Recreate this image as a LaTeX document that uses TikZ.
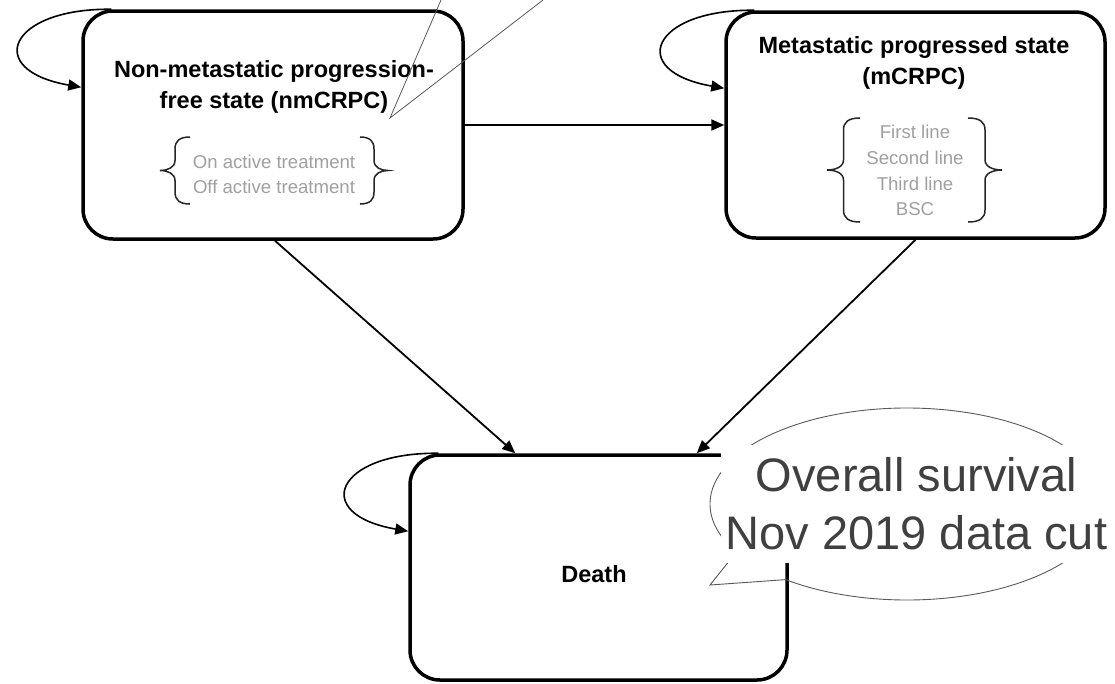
\documentclass[tikz,border=0pt]{standalone}
\usepackage{fontspec}
\setmainfont{Liberation Sans}
\usetikzlibrary{arrows.meta,calc}
\definecolor{subgray}{RGB}{160,160,160}
\definecolor{calloutgray}{RGB}{64,64,64}
\definecolor{lineg}{RGB}{90,90,90}
\newcommand{\drawbrace}[4]{% #1 tip x, #2 end x, #3 top y, #4 bottom y
  \pgfmathsetmacro{\brM}{(#1+#2)/2}%
  \pgfmathsetmacro{\brC}{(#3+#4)/2}%
  \pgfmathsetmacro{\brD}{(#2-#1)/2}%
  \draw[bracestyle] (#2,#3) .. controls ({\brM+0.3*\brD},#3) and (\brM,{#3+4}) .. (\brM,{#3+12})
    -- (\brM,{\brC-10}) .. controls (\brM,{\brC-3}) and ({\brM-0.5*\brD},\brC) .. (#1,\brC)
    .. controls ({\brM-0.5*\brD},\brC) and (\brM,{\brC+3}) .. (\brM,{\brC+10})
    -- (\brM,{#4-12}) .. controls (\brM,{#4-4}) and ({\brM+0.3*\brD},#4) .. (#2,#4);%
}
\newcommand{\selfloop}[1]{%
  \draw[looparr] ([xshift=30pt]#1.north west) .. controls +(-103,-1) and +(-98,-17) .. ([yshift=-78pt]#1.north west);%
}
\begin{document}
\begin{tikzpicture}[x=1pt,y=-1pt,
  state/.style={draw, line width=3.5pt, rounded corners=30pt, inner sep=0pt},
  arr/.style={line width=1.8pt, -{Triangle[length=13pt,width=11pt]}},
  looparr/.style={line width=1.6pt, -{Triangle[length=13pt,width=11pt]}},
  title/.style={font=\fontsize{23.5}{31}\selectfont\bfseries, anchor=base, inner sep=0pt},
  sub/.style={font=\fontsize{18.6}{25}\selectfont, text=subgray, anchor=base, inner sep=0pt},
  bracestyle/.style={line width=1.5pt, draw=black!85},
  pointer/.style={line width=0.8pt, draw=lineg},
  callline/.style={line width=0.9pt, draw=lineg}]
\fill[white] (0,0) rectangle (1115,683);
\useasboundingbox (0,0) rectangle (1115,683);

% states
\node[state, minimum width=380pt, minimum height=228pt] (b1) at (273,125) {};
\node[state, minimum width=379pt, minimum height=226pt] (b2) at (915.5,125) {};
\node[state, minimum width=377pt, minimum height=225pt] (d) at (598.5,567.5) {};

% self loops
\selfloop{b1}
\selfloop{b2}
\selfloop{d}

% transitions
\draw[arr] (b1.east) -- (b2.west);
\draw[arr] ([xshift=2pt]b1.south) -- ([xshift=107pt]d.north west);
\draw[arr] (b2.south) -- ([xshift=-92pt]d.north east);

% box 1 texts
\node[title] (t1a) at (274,77) {Non-metastatic progression-};
\node[title] (t1b) at (274,108) {free state (nmCRPC)};
\node[sub] (s1a) at (274,168) {On active treatment};
\node[sub] (s1b) at (274,193) {Off active treatment};
\drawbrace{160}{190}{137}{204}
\drawbrace{388}{360}{137}{204}

% box 2 texts
\node[title] (t2a) at (914,53) {Metastatic progressed state};
\node[title] (t2b) at (914,84) {(mCRPC)};
\node[sub] (s2a) at (915,138) {First line};
\node[sub] (s2b) at (915,164) {Second line};
\node[sub] (s2c) at (915,190) {Third line};
\node[sub] (s2d) at (915,215) {BSC};
\drawbrace{827}{860}{118}{222}
\drawbrace{1002}{968}{118}{222}

% death text
\node[title] (t3) at (594,582) {Death};

% pointer of a callout above the picture
\coordinate (ptip) at (390,118);
\coordinate (pa) at (441,0);
\coordinate (pb) at (543,0);
\draw[pointer] (pa) -- (ptip) -- (pb);

% oval callout
\coordinate (ctip) at (710,585);
\coordinate (cend) at (785.7,579.6);
\coordinate (cstart) at (736.4,552);
\draw[callline] (cend) -- (ctip) -- (cstart) arc[start angle=150, end angle=488, x radius=197, y radius=96];
\node[fill=white, minimum width=391pt, minimum height=118pt, inner sep=0pt,
      font=\fontsize{47}{58}\selectfont, text=calloutgray, align=center] (os) at (916.5,504)
      {Overall survival\\Nov 2019 data cut};
\end{tikzpicture}
\end{document}
